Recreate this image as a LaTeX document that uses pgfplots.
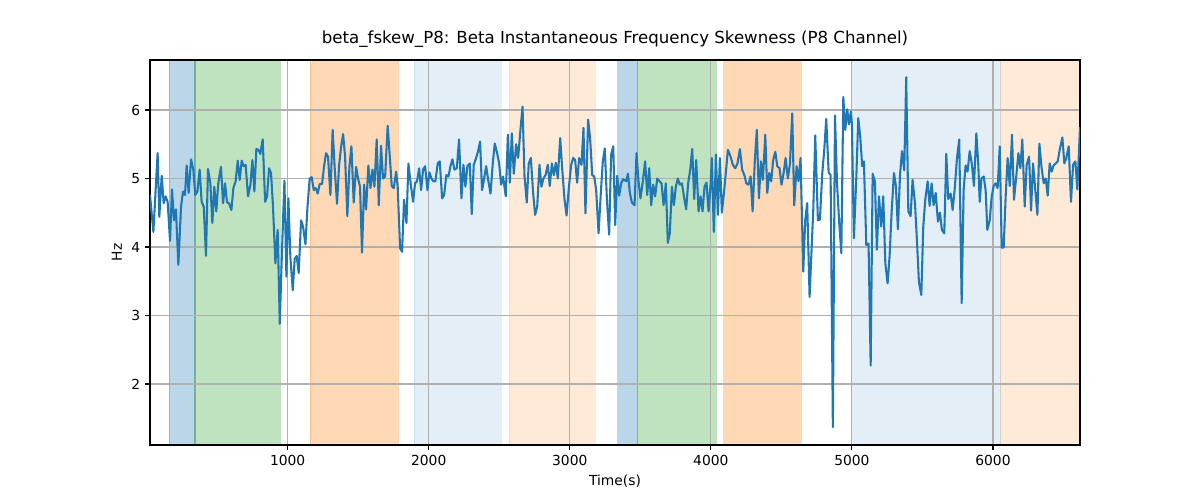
\documentclass[border=0pt]{standalone}
\usepackage{pgfplots}
\pgfplotsset{compat=1.18}
\usepackage{fontspec}
\setmainfont{DejaVu Sans}
\definecolor{tabblue}{HTML}{1F77B4}
\definecolor{taborange}{HTML}{FF7F0E}
\definecolor{tabgreen}{HTML}{2CA02C}
\definecolor{gridgray}{HTML}{B0B0B0}
\pgfplotstableread{
x y
24 4.76
48 4.22
78 5.37
90 4.44
107 5.04
121 4.64
135 4.74
149 4.66
166 4.09
180 4.84
194 4.39
208 4.55
225 3.74
244 4.59
258 4.81
272 4.76
284 5.19
298 4.79
315 5.28
331 5.13
345 4.76
360 4.81
376 5.13
390 4.66
405 4.59
421 3.87
435 5.14
452 4.93
466 4.35
480 4.88
494 4.52
508 4.93
527 5.17
542 4.64
556 4.93
570 4.65
584 4.64
601 4.54
615 4.86
631 4.96
646 5.26
660 4.98
674 5.26
688 5.18
702 5.20
719 4.74
736 4.91
750 5.27
764 4.81
778 5.43
792 5.42
806 5.36
823 5.57
840 4.66
854 4.74
868 5.15
882 5.08
896 4.59
913 3.76
929 4.25
944 2.88
960 3.96
977 4.97
991 3.57
1005 4.71
1019 3.86
1036 3.37
1050 3.83
1064 3.87
1078 3.62
1095 4.39
1109 4.30
1126 4.04
1140 4.57
1156 5.00
1170 5.02
1185 4.83
1199 4.86
1213 4.78
1227 4.92
1244 4.92
1258 5.18
1272 5.37
1286 5.32
1303 4.76
1319 5.71
1334 5.13
1350 4.63
1364 5.18
1379 5.47
1393 5.65
1407 5.32
1423 4.45
1438 5.18
1452 5.47
1468 4.65
1485 5.17
1499 5.00
1513 4.88
1527 3.92
1542 4.91
1556 4.55
1572 5.19
1587 4.86
1601 5.13
1615 4.88
1631 5.57
1646 4.61
1662 5.48
1676 5.00
1691 5.03
1709 5.77
1724 5.32
1738 4.89
1752 4.86
1769 5.10
1780 4.88
1797 3.98
1811 3.93
1825 4.69
1842 4.35
1856 5.22
1873 4.91
1889 4.66
1903 4.93
1917 4.96
1932 5.15
1946 4.83
1960 5.13
1974 5.18
1991 4.83
2005 5.09
2019 5.00
2033 4.96
2047 4.96
2064 5.22
2078 5.25
2095 4.71
2109 4.76
2125 5.05
2140 5.03
2154 5.18
2168 5.28
2182 5.13
2199 5.15
2215 5.57
2232 4.71
2246 5.20
2260 4.88
2274 5.18
2291 5.22
2305 4.48
2319 5.20
2336 5.30
2350 5.40
2364 5.54
2378 4.83
2393 5.00
2407 5.18
2423 4.96
2438 4.78
2454 5.22
2468 5.51
2485 5.37
2499 5.22
2513 4.91
2527 5.03
2546 4.74
2561 5.64
2575 4.94
2589 5.66
2603 5.07
2620 5.50
2634 5.30
2650 5.71
2665 6.05
2679 5.03
2695 4.65
2709 5.22
2724 5.30
2740 4.79
2754 4.47
2769 4.59
2785 5.20
2799 4.88
2813 5.00
2828 5.05
2844 5.20
2858 4.89
2873 5.22
2887 5.05
2901 5.23
2915 5.00
2932 5.59
2946 5.15
2962 4.71
2977 4.46
2993 4.86
3010 5.20
3024 5.30
3038 5.27
3052 4.94
3066 5.30
3083 5.20
3097 5.74
3111 4.49
3130 5.86
3144 5.59
3159 5.05
3173 5.03
3187 4.83
3204 4.20
3220 4.79
3234 5.25
3248 5.44
3263 4.70
3279 4.18
3293 5.35
3308 5.47
3322 4.32
3336 5.04
3350 4.75
3364 4.93
3378 4.99
3400 4.96
3412 5.07
3426 4.79
3440 4.65
3459 4.61
3473 5.37
3487 4.96
3501 4.71
3518 4.96
3534 5.25
3549 4.76
3563 5.15
3577 4.61
3591 4.91
3605 4.74
3620 5.00
3636 4.96
3650 4.93
3665 4.61
3681 4.93
3695 4.06
3709 4.20
3724 4.88
3738 4.61
3752 4.88
3766 5.00
3780 4.91
3795 4.93
3809 4.74
3825 4.55
3839 4.93
3854 5.13
3868 5.43
3882 4.70
3896 5.27
3913 4.52
3927 4.74
3941 4.52
3955 4.88
3969 4.94
3984 4.52
3998 4.91
4007 5.30
4021 4.22
4036 5.35
4050 4.47
4064 5.30
4078 4.50
4097 4.88
4121 5.42
4140 5.32
4156 5.20
4173 5.15
4189 5.22
4206 5.43
4222 5.13
4239 5.04
4251 4.93
4267 4.91
4282 5.03
4296 4.52
4312 5.27
4326 5.71
4341 4.71
4355 5.25
4369 4.98
4386 5.64
4400 4.79
4414 5.08
4428 4.96
4442 5.27
4457 5.39
4471 5.18
4487 5.15
4501 4.91
4516 5.08
4530 5.30
4546 5.00
4561 5.22
4577 5.95
4591 4.61
4608 5.18
4622 4.96
4636 5.30
4655 3.64
4669 4.39
4683 4.64
4700 3.27
4714 3.96
4726 4.54
4740 5.63
4759 4.39
4773 4.40
4790 5.08
4804 5.42
4818 5.87
4835 5.09
4849 5.05
4865 1.37
4880 5.92
4894 4.96
4910 4.35
4925 3.91
4939 6.19
4953 5.71
4967 6.01
4979 5.79
4993 5.98
5000 5.79
5014 4.13
5031 5.00
5045 5.88
5059 5.61
5073 5.18
5085 5.25
5102 4.03
5118 4.05
5133 2.27
5147 5.07
5163 4.96
5177 3.96
5192 4.74
5208 4.30
5222 4.74
5237 3.76
5253 3.47
5267 3.86
5281 4.49
5298 5.08
5312 4.89
5326 4.26
5341 5.05
5355 5.40
5371 5.12
5385 6.48
5400 4.52
5416 4.45
5430 4.98
5447 4.64
5461 4.10
5475 3.49
5492 3.30
5506 4.30
5520 4.69
5537 4.96
5551 4.60
5565 4.93
5579 4.61
5594 4.79
5610 4.37
5624 4.50
5638 4.25
5655 4.20
5669 5.36
5683 4.70
5700 4.78
5714 4.54
5728 4.83
5745 5.30
5761 5.57
5778 3.18
5792 4.83
5806 5.19
5820 5.10
5835 5.40
5851 5.20
5865 4.89
5882 5.66
5896 5.20
5906 4.66
5918 5.00
5934 5.03
5948 4.83
5960 4.25
5977 4.39
5991 4.74
6005 4.89
6019 4.93
6033 4.86
6048 5.47
6062 3.99
6076 3.99
6090 4.74
6104 5.30
6119 4.89
6135 5.64
6149 4.69
6166 5.05
6180 5.37
6194 5.15
6208 5.57
6225 4.59
6239 5.20
6256 5.32
6270 4.53
6284 5.22
6298 4.88
6315 4.47
6329 5.51
6345 5.15
6360 4.93
6374 5.00
6388 4.75
6402 5.22
6416 5.10
6430 5.19
6445 5.22
6459 5.25
6475 5.44
6492 5.60
6506 5.22
6520 5.30
6537 5.47
6553 4.66
6568 5.20
6584 5.25
6598 4.84
6617 5.75
}\datatable
\begin{document}
\begin{tikzpicture}
\begin{axis}[
  name=ax,
  set layers,
  clip mode=individual,
  scale only axis,
  width=9.3in, height=3.85in,
  xmin=24, xmax=6617, ymin=1.11, ymax=6.73,
  xtick={1000,2000,3000,4000,5000,6000},
  ytick={2,3,4,5,6},
  xtick pos=bottom, ytick pos=left,
  tick align=outside,
  major tick length=3.5pt,
  tick style={black, line width=0.8pt},
  axis line style={line width=0.8pt},
  grid=major,
  major grid style={gridgray, line width=0.8pt},
  /pgf/number format/assume math mode=true,
  /pgf/number format/set thousands separator={},
  tick label style={font=\fontsize{10pt}{12pt}\selectfont},
  label style={font=\fontsize{10pt}{12pt}\selectfont},
  title style={font=\fontsize{12pt}{14pt}\selectfont, at={(axis description cs:0.5,1)}, anchor=base, yshift=6pt, inner sep=0pt},
  title={beta\_fskew\_P8: Beta Instantaneous Frequency Skewness (P8 Channel)},
  xlabel={Time(s)},
  ylabel={Hz},
  span/.style={on layer=axis background, fill=#1, draw=#1, line width=0.75pt},
]
\addplot[span=tabblue, fill opacity=0.3, draw opacity=0.3] coordinates {(162,1.11) (162,6.73) (343,6.73) (343,1.11)} -- cycle;
\addplot[span=tabblue, fill opacity=0.3, draw opacity=0.3] coordinates {(3341,1.11) (3341,6.73) (3482,6.73) (3482,1.11)} -- cycle;
\addplot[span=tabgreen, fill opacity=0.3, draw opacity=0.3] coordinates {(343,1.11) (343,6.73) (946,6.73) (946,1.11)} -- cycle;
\addplot[span=tabgreen, fill opacity=0.3, draw opacity=0.3] coordinates {(3482,1.11) (3482,6.73) (4038,6.73) (4038,1.11)} -- cycle;
\addplot[span=taborange, fill opacity=0.3, draw opacity=0.3] coordinates {(1161,1.11) (1161,6.73) (1783,6.73) (1783,1.11)} -- cycle;
\addplot[span=taborange, fill opacity=0.3, draw opacity=0.3] coordinates {(4090,1.11) (4090,6.73) (4641,6.73) (4641,1.11)} -- cycle;
\addplot[span=tabblue, fill opacity=0.12, draw opacity=0.12] coordinates {(1899,1.11) (1899,6.73) (2513,6.73) (2513,1.11)} -- cycle;
\addplot[span=tabblue, fill opacity=0.12, draw opacity=0.12] coordinates {(5000,1.11) (5000,6.73) (6055,6.73) (6055,1.11)} -- cycle;
\addplot[span=taborange, fill opacity=0.16, draw opacity=0.16] coordinates {(2572,1.11) (2572,6.73) (3180,6.73) (3180,1.11)} -- cycle;
\addplot[span=taborange, fill opacity=0.16, draw opacity=0.16] coordinates {(6055,1.11) (6055,6.73) (6617,6.73) (6617,1.11)} -- cycle;
\addplot[tabblue, line width=1.5pt, line join=round, mark=none] table[x=x, y=y] {\datatable};
\end{axis}
\pgfresetboundingbox
\path (ax.south west) ++(-1.5in,-0.55in) rectangle ++(12in,5in);
\end{tikzpicture}
\end{document}
